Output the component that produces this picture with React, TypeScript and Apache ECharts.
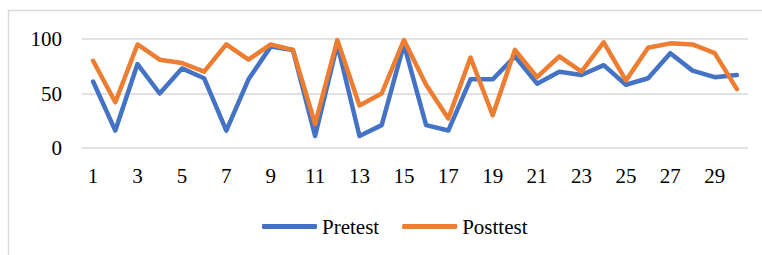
import React, { useEffect, useRef } from "react";
import * as echarts from "echarts";

const categories = Array.from({ length: 30 }, (_, i) => String(i + 1));
const pretest = [61, 16, 77, 50, 73, 64, 16, 63, 93, 90, 11, 95, 11, 21, 95, 21, 16, 63, 63, 84, 59, 70, 67, 76, 58, 64, 87, 71, 65, 67];
const posttest = [80, 42, 95, 81, 78, 70, 95, 81, 95, 90, 22, 99, 39, 50, 99, 58, 27, 83, 30, 90, 65, 84, 70, 97, 62, 92, 96, 95, 87, 54];
const yTicks = { min: 0, max: 100, interval: 50 };

export default function App() {
  const ref = useRef<HTMLDivElement>(null);
  useEffect(() => {
    const chart = echarts.init(ref.current!, null, { renderer: "svg" });
    const font = "Liberation Serif";
    chart.setOption({
      animation: false,
      backgroundColor: "#ffffff",
      graphic: [
        {
          type: "rect",
          shape: { x: 8.5, y: 10.5, width: 800, height: 300 },
          style: { fill: "none", stroke: "#D9D9D9", lineWidth: 1.5 },
          silent: true,
        },
      ],
      grid: { left: 82, right: 14, top: 39, bottom: 107, containLabel: false },
      xAxis: {
        type: "category",
        data: categories,
        boundaryGap: true,
        axisLine: { show: false },
        axisTick: { show: false },
        axisLabel: { interval: 1, color: "#000", fontFamily: font, fontSize: 21, margin: 17 },
      },
      yAxis: {
        type: "value",
        min: yTicks.min,
        max: yTicks.max,
        interval: yTicks.interval,
        axisLine: { show: false },
        axisTick: { show: false },
        axisLabel: { color: "#000", fontFamily: font, fontSize: 21, margin: 20 },
        splitLine: { lineStyle: { color: "#D9D9D9", width: 1.5 } },
      },
      legend: {
        left: 257,
        top: 211,
        icon: "roundRect",
        itemWidth: 55,
        itemHeight: 5,
        itemGap: 23,
        textStyle: { color: "#000", fontFamily: font, fontSize: 21 },
        data: ["Pretest", "Posttest"],
      },
      series: [
        {
          name: "Pretest",
          type: "line",
          data: pretest,
          symbol: "none",
          color: "#4472C4",
          lineStyle: { width: 4.5, color: "#4472C4", cap: "round", join: "round" },
        },
        {
          name: "Posttest",
          type: "line",
          data: posttest,
          symbol: "none",
          color: "#ED7D31",
          lineStyle: { width: 4.5, color: "#ED7D31", cap: "round", join: "round" },
        },
      ],
    });
    return () => chart.dispose();
  }, []);
  return (
    <div
      ref={ref}
      style={{ position: "absolute", left: 0, top: 0, width: 762, height: 255 }}
    />
  );
}
